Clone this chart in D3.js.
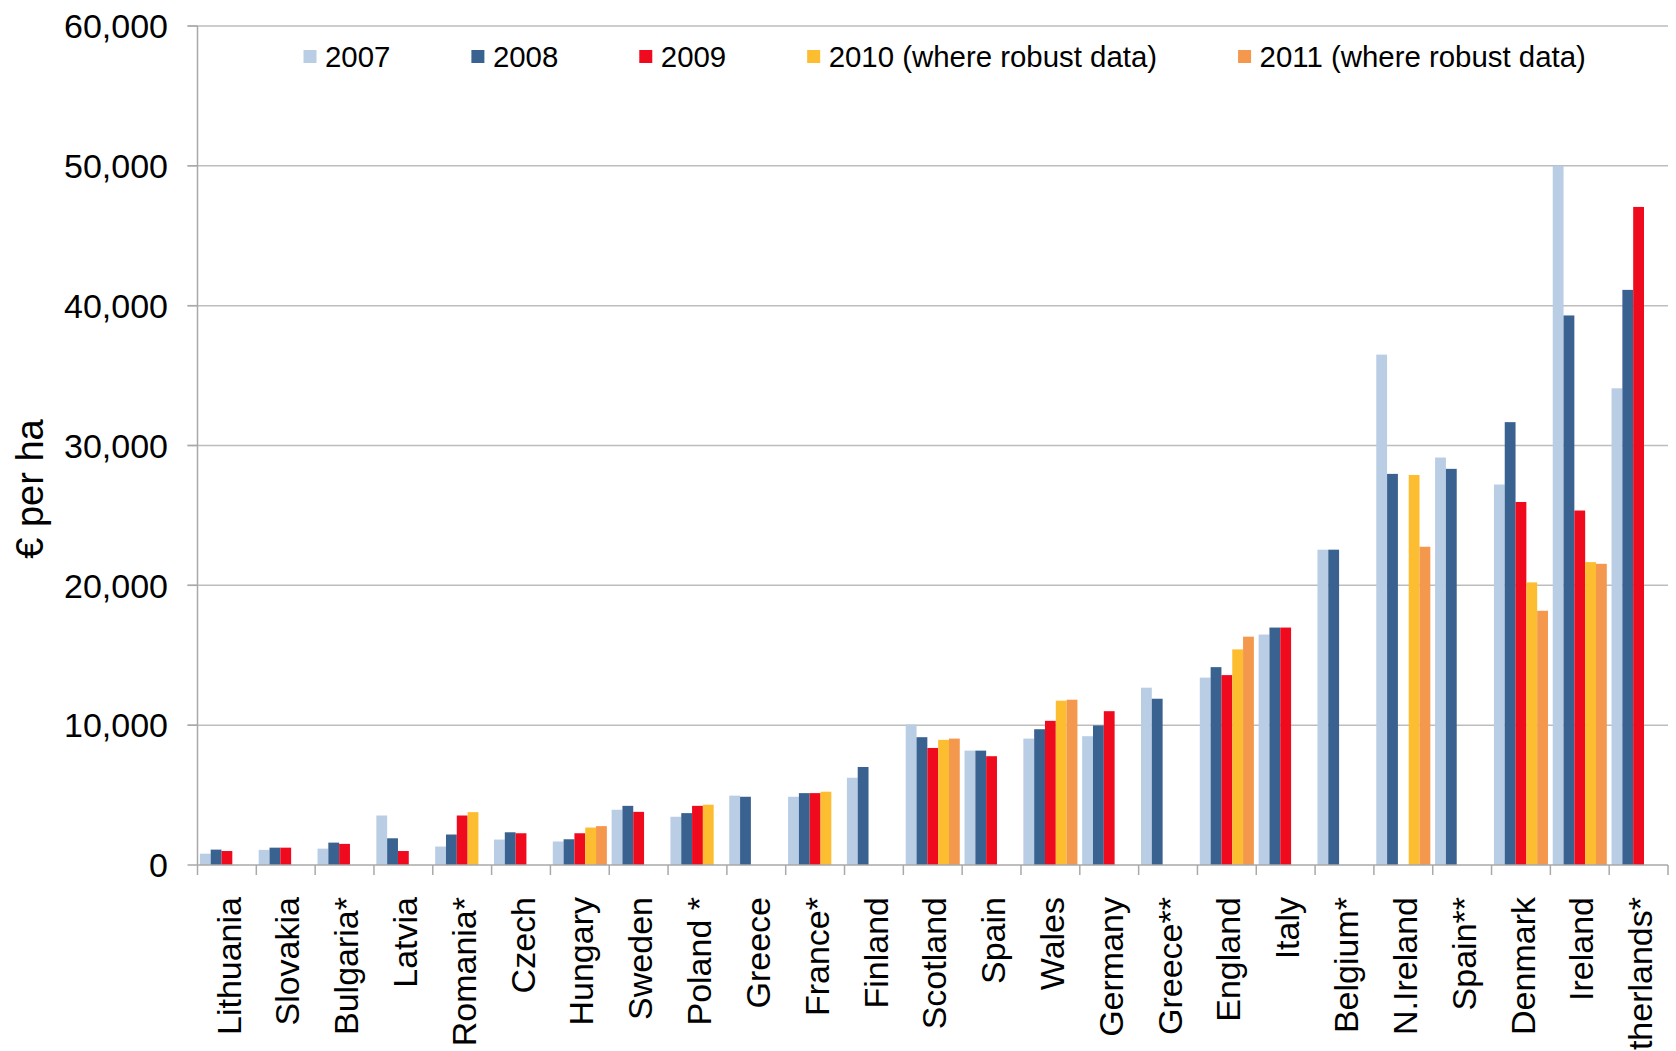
<!DOCTYPE html>
<html>
<head>
<meta charset="utf-8">
<script src="https://cdn.jsdelivr.net/npm/d3@7"></script>
<style>
  body { margin: 0; background: #fff; overflow: hidden; }
  svg { display: block; font-family: "Liberation Sans", Arial, sans-serif; }
  .grid-line { stroke: #bdbdbd; stroke-width: 1.5; }
  .axis-line { stroke: #a9a9a9; stroke-width: 1.5; fill: none; }
</style>
</head>
<body>
<div id="chart"></div>
<script>
const categories = ["Lithuania", "Slovakia", "Bulgaria*", "Latvia", "Romania*", "Czech", "Hungary", "Sweden",
  "Poland *", "Greece", "France*", "Finland", "Scotland", "Spain", "Wales", "Germany", "Greece**",
  "England", "Italy", "Belgium*", "N.Ireland", "Spain**", "Denmark", "Ireland", "Netherlands*"];

const seriesNames = ["2007", "2008", "2009", "2010 (where robust data)", "2011 (where robust data)"];
const seriesColors = ["#b9cde5", "#3a6290", "#f00a1e", "#fdbd30", "#f4984e"];

const v2007 = [810, 1080, 1170, 3540, 1320, 1820, 1680, 3950, 3450, 4960, 4880, 6240, 10050, 8180,
  9040, 9210, 12680, 13400, 16480, 22550, 36500, 29140, 27210, 50000, 34090];
const v2008 = [1100, 1240, 1600, 1910, 2180, 2340, 1840, 4230, 3710, 4880, 5140, 7010, 9140, 8180,
  9710, 9980, 11890, 14150, 16980, 22550, 27970, 28330, 31670, 39300, 41130];
const v2009 = [1000, 1240, 1510, 1000, 3540, 2270, 2270, 3800, 4230, null, 5140, null, 8370, 7780,
  10310, 11000, null, 13580, 16980, null, null, null, 25960, 25350, 47060];
const v2010 = [null, null, null, null, 3780, null, 2680, null, 4310, null, 5240, null, 8950, null,
  11750, null, null, 15420, null, null, 27890, null, 20210, 21660, null];
const v2011 = [null, null, null, null, null, null, 2780, null, null, null, null, null, 9040, null,
  11820, null, null, 16330, null, null, 22760, null, 18180, 21540, null];

const yTicks = [0, 10000, 20000, 30000, 40000, 50000, 60000];
const yTitle = "€ per ha";

const width = 1676, height = 1051;
const plot = { left: 197.5, right: 1668, top: 26, bottom: 865 };

const allSeries = [v2007, v2008, v2009, v2010, v2011];

const svg = d3.select("#chart").append("svg")
  .attr("width", width)
  .attr("height", height);

const x = d3.scaleBand().domain(categories).range([plot.left, plot.right]).padding(0);
const xInner = d3.scaleBand().domain(d3.range(seriesNames.length))
  .range([0, x.bandwidth()]).paddingInner(0).paddingOuter(0.22);
const y = d3.scaleLinear().domain([0, 60000]).range([plot.bottom, plot.top]);

// gridlines (skip the zero line, axis draws it)
svg.append("g").selectAll("line")
  .data(yTicks.filter(d => d > 0))
  .join("line")
  .attr("class", "grid-line")
  .attr("x1", plot.left - 10).attr("x2", plot.right)
  .attr("y1", d => y(d)).attr("y2", d => y(d));

// bars
const rows = [];
categories.forEach((c, i) => {
  allSeries.forEach((s, k) => {
    if (s[i] != null) rows.push({ cat: c, k: k, value: s[i] });
  });
});

svg.append("g").selectAll("rect")
  .data(rows)
  .join("rect")
  .attr("x", d => x(d.cat) + xInner(d.k))
  .attr("y", d => y(d.value))
  .attr("width", xInner.bandwidth())
  .attr("height", d => y(0) - y(d.value))
  .attr("fill", d => seriesColors[d.k]);

// y axis
const yAxis = svg.append("g");
yAxis.append("line").attr("class", "axis-line")
  .attr("x1", plot.left).attr("x2", plot.left)
  .attr("y1", plot.top).attr("y2", plot.bottom);
yAxis.selectAll("line.tick").data(yTicks).join("line")
  .attr("class", "axis-line tick")
  .attr("x1", plot.left - 10).attr("x2", plot.left)
  .attr("y1", d => y(d)).attr("y2", d => y(d));
yAxis.selectAll("text").data(yTicks).join("text")
  .attr("x", 168)
  .attr("y", d => y(d))
  .attr("dy", "0.36em")
  .attr("text-anchor", "end")
  .attr("font-size", 34)
  .attr("fill", "#000")
  .text(d => d3.format(",")(d));

svg.append("text")
  .attr("transform", `translate(43,489) rotate(-90)`)
  .attr("text-anchor", "middle")
  .attr("font-size", 38)
  .attr("fill", "#000")
  .text(yTitle);

// x axis
const xAxis = svg.append("g");
xAxis.append("line").attr("class", "axis-line")
  .attr("x1", plot.left).attr("x2", plot.right)
  .attr("y1", plot.bottom).attr("y2", plot.bottom);
const bounds = categories.map(c => x(c)).concat([plot.right]);
xAxis.selectAll("line.tick").data(bounds).join("line")
  .attr("class", "axis-line tick")
  .attr("x1", d => d).attr("x2", d => d)
  .attr("y1", plot.bottom).attr("y2", plot.bottom + 10);
xAxis.selectAll("text").data(categories).join("text")
  .attr("transform", d => `translate(${x(d) + x.bandwidth() / 2},897) rotate(-90)`)
  .attr("dy", "0.4em")
  .attr("text-anchor", "end")
  .attr("font-size", 34)
  .attr("fill", "#000")
  .text(d => d);

// legend
const legend = svg.append("g");
let lx = 303.5;
seriesNames.forEach((name, k) => {
  legend.append("rect")
    .attr("x", lx).attr("y", 50)
    .attr("width", 13).attr("height", 13)
    .attr("fill", seriesColors[k]);
  const t = legend.append("text")
    .attr("x", lx + 21.5).attr("y", 66.5)
    .attr("font-size", 29.4)
    .attr("fill", "#000")
    .text(name);
  lx += 21.5 + t.node().getComputedTextLength() + 81;
});
</script>
</body>
</html>
